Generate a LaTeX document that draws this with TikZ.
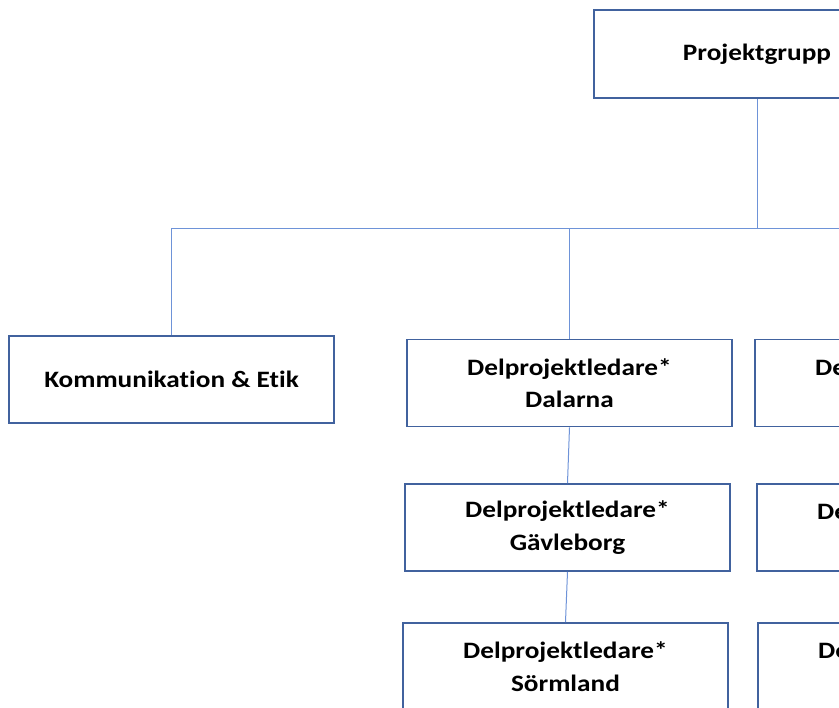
\documentclass[tikz,border=0pt]{standalone}
\usepackage{fontspec}
\setmainfont[FakeStretch=1.16,Ligatures=NoCommon]{Carlito}
\definecolor{boxblue}{HTML}{41629E}
\definecolor{linkblue}{HTML}{6E93D8}
\begin{document}
\begin{tikzpicture}[x=1pt,y=-1pt,
  orgbox/.style={draw=boxblue,line width=1.8pt,fill=white,rectangle,minimum width=325pt,minimum height=87pt,inner sep=0pt,align=center,font=\bfseries\fontsize{23.5}{32.5}\selectfont},
  link/.style={draw=linkblue,line width=1pt}]
\useasboundingbox (0,0) rectangle (839,708);
\clip (0,0) rectangle (839,708);
% nodes
\node[orgbox,minimum width=326pt,minimum height=88pt] (pg) at (757,54) {Projektgrupp};
\node[orgbox] (komm) at (171.5,379.5) {Kommunikation \& Etik};
\node[orgbox] (dal) at (569.5,383) {Delprojektledare*\\Dalarna};
\node[orgbox] (gav) at (567.5,527.5) {Delprojektledare*\\Gävleborg};
\node[orgbox] (sor) at (565.5,666.5) {Delprojektledare*\\Sörmland};
\node[orgbox] (r1) at (917.5,383) {Delprojektledare*\\\phantom{X}};
\node[orgbox] (r2) at (919.5,527.5) {Delprojektledare*\\\phantom{X}};
\node[orgbox] (r3) at (920.5,666.5) {Delprojektledare*\\\phantom{X}};
\coordinate (bus) at (757,229);
\coordinate (busR) at (850,229);
% connectors
\draw[link] (pg.south) -- (bus);
\draw[link] (bus) -- (busR);
\draw[link] (bus) -| (komm.north);
\draw[link] (bus) -| (dal.north);
\draw[link] (dal.south) -- (gav.north);
\draw[link] (gav.south) -- (sor.north);
\end{tikzpicture}
\end{document}
